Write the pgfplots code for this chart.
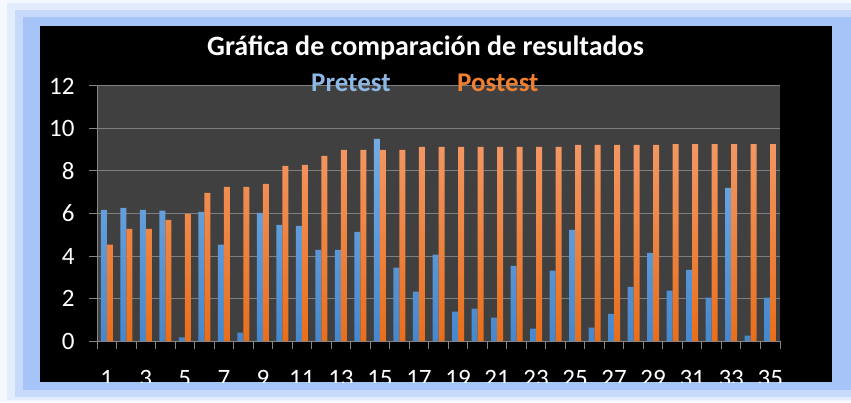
\documentclass[border=0pt]{standalone}
\usepackage{pgfplots}
\pgfplotsset{compat=1.18}
\usepackage{fontspec}
\setmainfont{Carlito}
\definecolor{frame0}{HTML}{F5F8FE}
\definecolor{frame1}{HTML}{E3ECFD}
\definecolor{frame2}{HTML}{C8DAFB}
\definecolor{frame3}{HTML}{A6C4F8}
\definecolor{plotgray}{HTML}{404040}
\definecolor{gridgray}{HTML}{7F7F7F}
\definecolor{axgray}{HTML}{868686}
\definecolor{bluetop}{HTML}{74ACE2}
\definecolor{bluebot}{HTML}{4687CD}
\definecolor{orangetop}{HTML}{F39763}
\definecolor{orangebot}{HTML}{E96E1A}
\definecolor{pretxt}{HTML}{8DB7E5}
\definecolor{posttxt}{HTML}{F07F30}
\begin{document}
\begin{tikzpicture}
\useasboundingbox (0,0) rectangle (851pt,402pt);
\fill[frame0] (0,0) rectangle (851pt,402pt);
\fill[frame1] (7pt,2pt) rectangle (851pt,399pt);
\fill[frame2] (15pt,5pt) rectangle (851pt,392pt);
\fill[frame3] (23pt,12pt) rectangle (851pt,385pt);
\fill[black] (40pt,20pt) rectangle (832pt,376pt);
\begin{scope}
\clip (40pt,20pt) rectangle (832pt,376pt);
\begin{axis}[
  at={(97pt,61pt)}, anchor=south west,
  scale only axis, width=683pt, height=255pt,
  xmin=0.5, xmax=35.5, ymin=0, ymax=12,
  ybar=0pt, bar width=6pt,
  axis background/.style={fill=plotgray},
  axis lines*=left,
  axis line style={draw=axgray, line width=1pt},
  ytick={0,2,...,12},
  ymajorgrids, grid style={draw=gridgray, line width=1pt},
  xtick={1,3,...,35},
  minor xtick={0.5,1.5,...,35.5},
  tick align=outside,
  major tick length=8pt, minor tick length=8pt,
  major x tick style={draw=none},
  minor x tick style={draw=axgray, line width=1pt},
  y tick style={draw=axgray, line width=1pt},
  tick label style={font=\fontsize{25}{30}\selectfont, text=white},
  /pgf/number format/assume math mode=true,
  yticklabel style={xshift=-11pt},
  xticklabel style={yshift=-18pt},
]
\addplot[draw=none, top color=bluetop, bottom color=bluebot] coordinates {
(1,6.17) (2,6.27) (3,6.17) (4,6.13) (5,0.17) (6,6.08) (7,4.53) (8,0.39) (9,6.03) (10,5.47)
(11,5.42) (12,4.29) (13,4.29) (14,5.14) (15,9.51) (16,3.45) (17,2.32) (18,4.06) (19,1.38) (20,1.52)
(21,1.10) (22,3.54) (23,0.58) (24,3.31) (25,5.23) (26,0.63) (27,1.28) (28,2.55) (29,4.15) (30,2.37)
(31,3.35) (32,2.04) (33,7.21) (34,0.25) (35,2.04)};
\addplot[draw=none, top color=orangetop, bottom color=orangebot] coordinates {
(1,4.53) (2,5.28) (3,5.28) (4,5.70) (5,5.98) (6,6.97) (7,7.25) (8,7.25) (9,7.39) (10,8.24)
(11,8.29) (12,8.71) (13,8.99) (14,8.99) (15,8.99) (16,8.99) (17,9.13) (18,9.13) (19,9.13) (20,9.13)
(21,9.13) (22,9.13) (23,9.13) (24,9.13) (25,9.23) (26,9.23) (27,9.23) (28,9.23) (29,9.23) (30,9.27)
(31,9.27) (32,9.27) (33,9.27) (34,9.27) (35,9.27)};
\end{axis}
\end{scope}
\node[anchor=base west, inner sep=0pt, text=white, font=\fontsize{28}{32}\selectfont\bfseries] at (207pt,346.3pt) {Gráfica de comparación de resultados};
\node[anchor=base west, inner sep=0pt, text=pretxt, font=\fontsize{27}{30}\selectfont\bfseries] at (311pt,310pt) {Pretest};
\node[anchor=base west, inner sep=0pt, text=posttxt, font=\fontsize{27}{30}\selectfont\bfseries] at (457pt,310pt) {Postest};
\end{tikzpicture}
\end{document}
